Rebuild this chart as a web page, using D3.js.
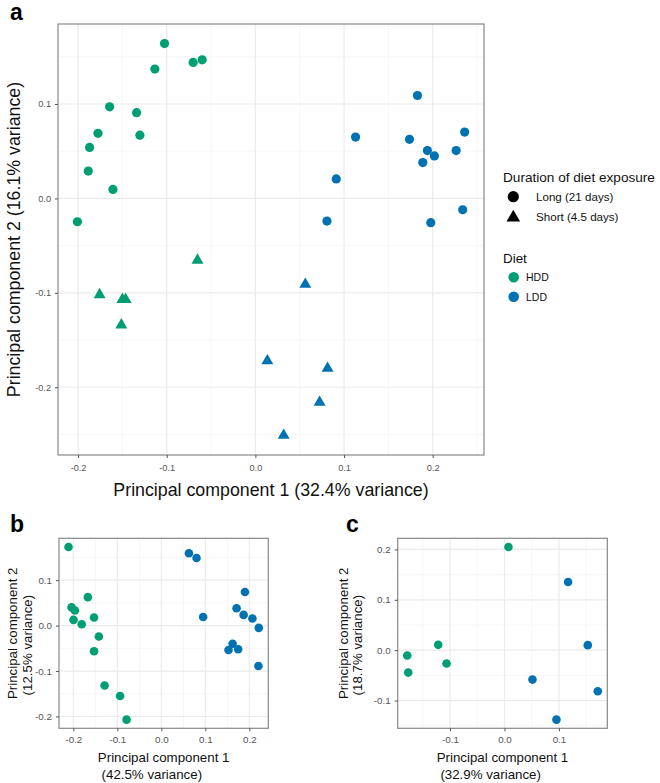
<!DOCTYPE html>
<html><head><meta charset="utf-8">
<script src="https://cdn.jsdelivr.net/npm/d3@7"></script>
<style>body{margin:0;background:#fff} text{font-family:"Liberation Sans",Arial,sans-serif}</style>
</head><body><svg id="chart" width="660" height="783"></svg>
<script>
// ---------- DATA ----------
// Panel a
const aHddLongX  = [-0.2008,-0.1885,-0.187,-0.1776,-0.1644,-0.1607,-0.134,-0.1303,-0.1134,-0.1025,-0.0702,-0.060];
const aHddLongY  = [-0.0247,0.029,0.054,0.069,0.097,0.0095,0.0908,0.067,0.137,0.164,0.144,0.1468];
const aHddShortX = [-0.1757,-0.150,-0.1464,-0.1512,-0.0653];
const aHddShortY = [-0.102,-0.107,-0.107,-0.134,-0.0655];
const aLddLongX  = [0.1828,0.113,0.1738,0.194,0.2019,0.1888,0.2264,0.0912,0.0807,0.1978,0.236,0.2338];
const aLddLongY  = [0.109,0.065,0.0626,0.0507,0.045,0.038,0.0507,0.0207,-0.024,-0.0257,0.0703,-0.012];
const aLddShortX = [0.0563,0.0135,0.0814,0.0724,0.0319];
const aLddShortY = [-0.091,-0.172,-0.180,-0.216,-0.251];
const aXTicks = [-0.2,-0.1,0,0.1,0.2];
const aXTickLabels = ["-0.2","-0.1","0.0","0.1","0.2"];
const aYTicks = [-0.2,-0.1,0,0.1];
const aYTickLabels = ["-0.2","-0.1","0.0","0.1"];
// Panel b
const bHddX = [-0.211,-0.204,-0.1965,-0.1996,-0.181,-0.167,-0.153,-0.142,-0.153,-0.129,-0.0937,-0.079];
const bHddY = [0.173,0.040,0.033,0.0125,0.003,0.0625,0.0176,-0.024,-0.0566,-0.132,-0.155,-0.207];
const bLddX = [0.0627,0.080,0.095,0.190,0.171,0.187,0.207,0.2215,0.162,0.1527,0.1746,0.2207];
const bLddY = [0.159,0.1485,0.019,0.074,0.038,0.0235,0.0154,-0.005,-0.040,-0.0537,-0.052,-0.089];
const bXTicks = [-0.2,-0.1,0,0.1,0.2];
const bXTickLabels = ["-0.2","-0.1","0.0","0.1","0.2"];
const bYTicks = [-0.2,-0.1,0,0.1];
const bYTickLabels = ["-0.2","-0.1","0.0","0.1"];
// Panel c
const cHddX = [0.0073,-0.1217,-0.1064,-0.1786,-0.1768];
const cHddY = [0.205,0.0106,-0.0265,-0.0106,-0.0445];
const cLddX = [0.1168,0.1529,0.0514,0.1713,0.0954];
const cLddY = [0.1354,0.01,-0.0584,-0.0816,-0.138];
const cXTicks = [-0.1,0,0.1];
const cXTickLabels = ["-0.1","0.0","0.1"];
const cYTicks = [-0.1,0,0.1,0.2];
const cYTickLabels = ["-0.1","0.0","0.1","0.2"];
// Legend
const durationTitle = "Duration of diet exposure";
const durationLabels = ["Long (21 days)","Short (4.5 days)"];
const dietTitle = "Diet";
const dietLabels = ["HDD","LDD"];

// ---------- DRAW ----------
const svg = d3.select("#chart");
const GREEN = "#009E73", BLUE = "#0072B2";
const FONT = "'Liberation Sans', Arial, sans-serif";

function expandDomain(vals){
  const [lo,hi] = d3.extent(vals); const pad = (hi-lo)*0.05; return [lo-pad, hi+pad];
}
function minorBreaks(major, dom){
  const step = major[1]-major[0];
  const b = [major[0]-step, ...major, major[major.length-1]+step];
  const r = [];
  for (let i=0;i<b.length-1;i++) r.push((b[i]+b[i+1])/2);
  return r.filter(v => v>=dom[0] && v<=dom[1]);
}

function panel(cfg){
  const g = svg.append("g");
  const x = d3.scaleLinear().domain(expandDomain(cfg.series.flatMap(s=>s.x))).range([cfg.left, cfg.right]);
  const y = d3.scaleLinear().domain(expandDomain(cfg.series.flatMap(s=>s.y))).range([cfg.bottom, cfg.top]);
  g.append("rect").attr("x",cfg.left).attr("y",cfg.top).attr("width",cfg.right-cfg.left).attr("height",cfg.bottom-cfg.top).attr("fill","#fff");
  const grid = g.append("g");
  minorBreaks(cfg.xTicks, x.domain()).forEach(v => grid.append("line").attr("x1",x(v)).attr("x2",x(v)).attr("y1",cfg.top).attr("y2",cfg.bottom).attr("stroke","#f2f2f2").attr("stroke-width",0.7));
  minorBreaks(cfg.yTicks, y.domain()).forEach(v => grid.append("line").attr("y1",y(v)).attr("y2",y(v)).attr("x1",cfg.left).attr("x2",cfg.right).attr("stroke","#f2f2f2").attr("stroke-width",0.7));
  cfg.xTicks.forEach(v => grid.append("line").attr("x1",x(v)).attr("x2",x(v)).attr("y1",cfg.top).attr("y2",cfg.bottom).attr("stroke","#ebebeb").attr("stroke-width",1.2));
  cfg.yTicks.forEach(v => grid.append("line").attr("y1",y(v)).attr("y2",y(v)).attr("x1",cfg.left).attr("x2",cfg.right).attr("stroke","#ebebeb").attr("stroke-width",1.2));

  cfg.series.forEach(s => {
    const pts = s.x.map((v,i)=>[v, s.y[i]]);
    if (s.shape === "circle") {
      g.append("g").selectAll("circle").data(pts).join("circle")
        .attr("cx", d=>x(d[0])).attr("cy", d=>y(d[1])).attr("r", cfg.r).attr("fill", s.color);
    } else {
      g.append("g").selectAll("path").data(pts).join("path")
        .attr("d", d3.symbol(d3.symbolTriangle, cfg.triArea))
        .attr("transform", d=>`translate(${x(d[0])},${y(d[1])})`).attr("fill", s.color);
    }
  });

  g.append("rect").attr("x",cfg.left).attr("y",cfg.top).attr("width",cfg.right-cfg.left).attr("height",cfg.bottom-cfg.top)
    .attr("fill","none").attr("stroke","#888").attr("stroke-width",1.2);

  const xa = g.append("g").attr("transform",`translate(0,${cfg.bottom})`)
    .call(d3.axisBottom(x).tickValues(cfg.xTicks).tickFormat((d,i)=>cfg.xLabels[i]).tickSize(3).tickPadding(cfg.xPad));
  const ya = g.append("g").attr("transform",`translate(${cfg.left},0)`)
    .call(d3.axisLeft(y).tickValues(cfg.yTicks).tickFormat((d,i)=>cfg.yLabels[i]).tickSize(3).tickPadding(cfg.yPad));
  [xa,ya].forEach(a => {
    a.select(".domain").remove();
    a.attr("font-family", FONT).attr("font-size", cfg.tickFont);
    a.selectAll("line").attr("stroke","#555");
    a.selectAll("text").attr("fill","#555");
  });
  return {x,y,g};
}

// Panel a
const A = {left:58, right:484, top:24, bottom:455};
panel(Object.assign({}, A, {
  series: [
    {x:aHddLongX, y:aHddLongY, color:GREEN, shape:"circle"},
    {x:aHddShortX, y:aHddShortY, color:GREEN, shape:"triangle"},
    {x:aLddLongX, y:aLddLongY, color:BLUE, shape:"circle"},
    {x:aLddShortX, y:aLddShortY, color:BLUE, shape:"triangle"}
  ],
  xTicks:aXTicks, xLabels:aXTickLabels, yTicks:aYTicks, yLabels:aYTickLabels,
  r:4.6, triArea:62, tickFont:9.2, xPad:6, yPad:4
}));
svg.append("text").attr("x",(A.left+A.right)/2).attr("y",496).attr("text-anchor","middle")
  .attr("font-size",17.8).attr("fill","#111").text("Principal component 1 (32.4% variance)");
svg.append("text").attr("transform",`translate(20,${(A.top+A.bottom)/2}) rotate(-90)`).attr("text-anchor","middle")
  .attr("font-size",17.8).attr("fill","#111").text("Principal component 2 (16.1% variance)");
svg.append("text").attr("x",10).attr("y",19.5).attr("font-size",23).attr("font-weight","bold").text("a");

// Legend
const leg = svg.append("g");
leg.append("text").attr("x",503).attr("y",182).attr("font-size",13.6).attr("fill","#111").text(durationTitle);
durationLabels.forEach((lab,i) => {
  const cy = 196.7 + i*20;
  if (i===0) leg.append("circle").attr("cx",513.3).attr("cy",cy).attr("r",5.6).attr("fill","#000");
  else leg.append("path").attr("d", d3.symbol(d3.symbolTriangle, 80)).attr("transform",`translate(513.3,${cy+1})`).attr("fill","#000");
  leg.append("text").attr("x",536).attr("y",cy+4).attr("font-size",11.6).attr("fill","#111").text(lab);
});
leg.append("text").attr("x",503).attr("y",263).attr("font-size",13.4).attr("fill","#111").text(dietTitle);
dietLabels.forEach((lab,i) => {
  const cy = 277.3 + i*19.5;
  leg.append("circle").attr("cx",513.7).attr("cy",cy).attr("r",5.3).attr("fill", i===0?GREEN:BLUE);
  leg.append("text").attr("x",526).attr("y",cy+3.8).attr("font-size",10.5).attr("fill","#111").text(lab);
});

// Panels b and c
function twoLineLabels(P, xLines, yLines, yLabelX){
  const cx = (P.left+P.right)/2, cy = (P.top+P.bottom)/2;
  const t1 = svg.append("text").attr("x",0).attr("y",757).attr("dy","0.35em").attr("font-size",13.3).attr("fill","#111").text(xLines[0]);
  const w1 = t1.node().getComputedTextLength();
  t1.attr("x", cx - w1/2);
  svg.append("text").attr("x", cx - w1/2).attr("y",774).attr("dy","0.35em").attr("font-size",13.3).attr("fill","#111").text(" " + xLines[1]).attr("xml:space","preserve");
  const g1 = svg.append("g").attr("transform",`translate(${yLabelX[0]},${cy}) rotate(-90)`);
  const u1 = g1.append("text").attr("y",0).attr("dy","0.35em").attr("font-size",13.3).attr("fill","#111").text(yLines[0]);
  const v1 = u1.node().getComputedTextLength();
  u1.attr("x", -v1/2);
  svg.append("g").attr("transform",`translate(${yLabelX[1]},${cy}) rotate(-90)`)
    .append("text").attr("x",-v1/2).attr("y",0).attr("dy","0.35em").attr("font-size",13.3).attr("fill","#111").attr("xml:space","preserve").text(" " + yLines[1]);
}

const B = {left:59, right:268.3, top:538.3, bottom:728.3};
panel(Object.assign({}, B, {
  series: [
    {x:bHddX, y:bHddY, color:GREEN, shape:"circle"},
    {x:bLddX, y:bLddY, color:BLUE, shape:"circle"}
  ],
  xTicks:bXTicks, xLabels:bXTickLabels, yTicks:bYTicks, yLabels:bYTickLabels,
  r:4.3, triArea:50, tickFont:9.8, xPad:4.5, yPad:4
}));
twoLineLabels(B, ["Principal component 1","(42.5% variance)"], ["Principal component 2","(12.5% variance)"], [12.5,27]);
svg.append("text").attr("x",10).attr("y",532).attr("font-size",23).attr("font-weight","bold").text("b");

const C = {left:397.7, right:607.3, top:538.3, bottom:728.3};
panel(Object.assign({}, C, {
  series: [
    {x:cHddX, y:cHddY, color:GREEN, shape:"circle"},
    {x:cLddX, y:cLddY, color:BLUE, shape:"circle"}
  ],
  xTicks:cXTicks, xLabels:cXTickLabels, yTicks:cYTicks, yLabels:cYTickLabels,
  r:4.3, triArea:50, tickFont:9.8, xPad:4.5, yPad:4
}));
twoLineLabels(C, ["Principal component 1","(32.9% variance)"], ["Principal component 2","(18.7% variance)"], [343,357]);
svg.append("text").attr("x",346).attr("y",531.5).attr("font-size",23).attr("font-weight","bold").text("c");
</script></body></html>
